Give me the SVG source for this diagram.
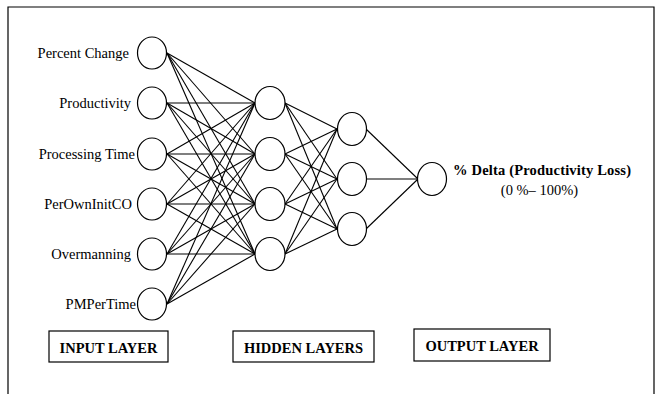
<svg xmlns="http://www.w3.org/2000/svg" width="656" height="394" viewBox="0 0 656 394">
<style>
.n{fill:#fff;stroke:#000;stroke-width:1.2}
.c line{stroke:#000;stroke-width:1.1}
text{font-family:'Liberation Serif','Times New Roman','DejaVu Serif',serif;font-size:14.5px;fill:#000}
.b{font-weight:bold}
.box{fill:none;stroke:#000;stroke-width:1.2}
.frame{stroke:#000;stroke-width:1.2;fill:none}
</style>
<rect width="656" height="394" fill="#fff"/>
<path class="frame" d="M8,394 V7 H654 V394"/>
<g id="connectors" class="c">
<line x1="167" y1="53" x2="255" y2="103"/><line x1="167" y1="53" x2="255" y2="154"/><line x1="167" y1="53" x2="255" y2="204"/><line x1="167" y1="53" x2="255" y2="254"/>
<line x1="167" y1="103" x2="255" y2="103"/><line x1="167" y1="103" x2="255" y2="154"/><line x1="167" y1="103" x2="255" y2="204"/><line x1="167" y1="103" x2="255" y2="254"/>
<line x1="167" y1="154" x2="255" y2="103"/><line x1="167" y1="154" x2="255" y2="154"/><line x1="167" y1="154" x2="255" y2="204"/><line x1="167" y1="154" x2="255" y2="254"/>
<line x1="167" y1="204" x2="255" y2="103"/><line x1="167" y1="204" x2="255" y2="154"/><line x1="167" y1="204" x2="255" y2="204"/><line x1="167" y1="204" x2="255" y2="254"/>
<line x1="167" y1="254" x2="255" y2="103"/><line x1="167" y1="254" x2="255" y2="154"/><line x1="167" y1="254" x2="255" y2="204"/><line x1="167" y1="254" x2="255" y2="254"/>
<line x1="167" y1="304" x2="255" y2="103"/><line x1="167" y1="304" x2="255" y2="154"/><line x1="167" y1="304" x2="255" y2="204"/><line x1="167" y1="304" x2="255" y2="254"/>
<line x1="285" y1="103" x2="337" y2="129"/><line x1="285" y1="103" x2="337" y2="179"/><line x1="285" y1="103" x2="337" y2="229"/>
<line x1="285" y1="154" x2="337" y2="129"/><line x1="285" y1="154" x2="337" y2="179"/><line x1="285" y1="154" x2="337" y2="229"/>
<line x1="285" y1="204" x2="337" y2="129"/><line x1="285" y1="204" x2="337" y2="179"/><line x1="285" y1="204" x2="337" y2="229"/>
<line x1="285" y1="254" x2="337" y2="129"/><line x1="285" y1="254" x2="337" y2="179"/><line x1="285" y1="254" x2="337" y2="229"/>
<line x1="366" y1="129" x2="418" y2="179"/><line x1="366" y1="179" x2="418" y2="179"/><line x1="366" y1="229" x2="418" y2="179"/>
</g>
<g id="in1"><ellipse class="n" cx="152" cy="53" rx="14.5" ry="16"/><text x="129" y="58" text-anchor="end">Percent Change</text></g>
<g id="in2"><ellipse class="n" cx="152" cy="103" rx="14.5" ry="16"/><text x="131" y="108" text-anchor="end">Productivity</text></g>
<g id="in3"><ellipse class="n" cx="152" cy="154" rx="14.5" ry="16"/><text x="135" y="159" text-anchor="end">Processing Time</text></g>
<g id="in4"><ellipse class="n" cx="152" cy="204" rx="14.5" ry="16"/><text x="132" y="209" text-anchor="end">PerOwnInitCO</text></g>
<g id="in5"><ellipse class="n" cx="152" cy="254" rx="14.5" ry="16"/><text x="131" y="259" text-anchor="end">Overmanning</text></g>
<g id="in6"><ellipse class="n" cx="152" cy="304" rx="14.5" ry="16"/><text x="136" y="309" text-anchor="end">PMPerTime</text></g>
<g id="h1a"><ellipse class="n" cx="270" cy="103" rx="15" ry="16.5"/></g>
<g id="h1b"><ellipse class="n" cx="270" cy="154" rx="15" ry="16.5"/></g>
<g id="h1c"><ellipse class="n" cx="270" cy="204" rx="15" ry="16.5"/></g>
<g id="h1d"><ellipse class="n" cx="270" cy="254" rx="15" ry="16.5"/></g>
<g id="h2a"><ellipse class="n" cx="352" cy="129" rx="14.5" ry="16.5"/></g>
<g id="h2b"><ellipse class="n" cx="352" cy="179" rx="14.5" ry="16.5"/></g>
<g id="h2c"><ellipse class="n" cx="352" cy="229" rx="14.5" ry="16.5"/></g>
<g id="out"><ellipse class="n" cx="432" cy="179" rx="14.5" ry="16.5"/>
<text class="b" x="453" y="175" textLength="178">% Delta (Productivity Loss)</text>
<text x="539.5" y="195" text-anchor="middle">(0 %– 100%)</text></g>
<g id="input-layer"><rect class="box" x="49" y="331" width="119" height="31"/><text class="b" x="108.5" y="353" text-anchor="middle">INPUT LAYER</text></g>
<g id="hidden-layers"><rect class="box" x="233" y="331" width="141" height="31"/><text class="b" x="303.5" y="353" text-anchor="middle">HIDDEN LAYERS</text></g>
<g id="output-layer"><rect class="box" x="414" y="329" width="136" height="32"/><text class="b" x="482" y="351" text-anchor="middle">OUTPUT LAYER</text></g>
</svg>
